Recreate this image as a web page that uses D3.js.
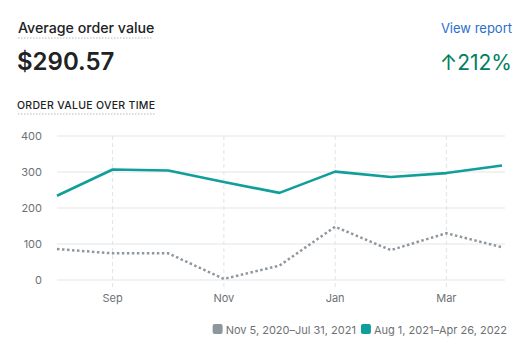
<!DOCTYPE html>
<html><head><meta charset="utf-8">
<script src="https://cdn.jsdelivr.net/npm/d3@7"></script>
<style>
body{margin:0;background:#fff;font-family:Inter,"Noto Sans",sans-serif;}
</style></head><body>
<svg id="c" width="528" height="353"></svg>
<script>
const months = ["Aug","Sep","Oct","Nov","Dec","Jan","Feb","Mar","Apr"];
const currentValues = [234,307,304,272,242,301,286,297,318];
const previousValues = [86,74,74,3,40,148,83,130,91];
const xTickLabels = ["Sep","Nov","Jan","Mar"];
const yTicks = [0,100,200,300,400];
const legendLabels = ["Nov 5, 2020–Jul 31, 2021","Aug 1, 2021–Apr 26, 2022"];

const svg = d3.select("#c");
const teal = "#109e9a", grey = "#8f979e", axisText = "#6d7175";

// header
svg.append("text").attr("x",18).attr("y",33).attr("font-size",14.2).attr("fill","#202223").attr("font-weight",500).text("Average order value");
svg.append("line").attr("x1",18).attr("x2",153).attr("y1",38).attr("y2",38).attr("stroke","#b5b8bb").attr("stroke-dasharray","1.5,1.5");
svg.append("text").attr("x",17).attr("y",70).attr("font-size",24).attr("fill","#202223").attr("font-weight",600).text("$290.57");
svg.append("text").attr("x",17).attr("y",109).attr("font-size",10.5).attr("fill","#202223").attr("font-weight",500).attr("letter-spacing",0.3).text("ORDER VALUE OVER TIME");
svg.append("line").attr("x1",18).attr("x2",155).attr("y1",114).attr("y2",114).attr("stroke","#b5b8bb").attr("stroke-dasharray","1.5,1.5");
svg.append("text").attr("x",512).attr("y",33).attr("text-anchor","end").attr("font-size",13).attr("fill","#2c6ecb").text("View report");
svg.append("text").attr("x",512).attr("y",70).attr("text-anchor","end").attr("font-size",21).attr("fill","#007f5f").text("↑212%");

const x = d3.scalePoint().domain(months).range([57,502]);
const y = d3.scaleLinear().domain([0,400]).range([280,136]);

// gridlines
svg.append("g").selectAll("line").data(yTicks).join("line")
  .attr("x1",57).attr("x2",505).attr("y1",d=>y(d)).attr("y2",d=>y(d))
  .attr("stroke","#e4e5e7").attr("stroke-width",1);
svg.append("g").selectAll("line").data(xTickLabels).join("line")
  .attr("x1",d=>x(d)).attr("x2",d=>x(d)).attr("y1",136).attr("y2",290)
  .attr("stroke","#e1e3e5").attr("stroke-dasharray","4,3");

// y axis labels
svg.append("g").selectAll("text").data(yTicks).join("text")
  .attr("x",42).attr("y",d=>y(d)+4).attr("text-anchor","end")
  .attr("font-size",11).attr("fill",axisText).text(d=>d);
// x axis labels
svg.append("g").selectAll("text").data(xTickLabels).join("text")
  .attr("x",d=>x(d)).attr("y",302).attr("text-anchor","middle")
  .attr("font-size",11).attr("fill",axisText).text(d=>d);

const line = d3.line().x((d,i)=>x(months[i])).y(d=>y(d));
svg.append("path").datum(previousValues).attr("d",line).attr("fill","none")
  .attr("stroke",grey).attr("stroke-width",2.5).attr("stroke-dasharray","2.5,2.5");
svg.append("path").datum(currentValues).attr("d",line).attr("fill","none")
  .attr("stroke",teal).attr("stroke-width",2.6).attr("stroke-linejoin","round");

// legend
const lg = svg.append("g");
const t2 = lg.append("text").attr("x",507).attr("y",334).attr("text-anchor","end").attr("font-size",11).attr("fill",axisText).text(legendLabels[1]);
const w2 = t2.node().getComputedTextLength();
lg.append("rect").attr("x",507-w2-13).attr("y",324).attr("width",10).attr("height",10).attr("rx",2).attr("fill",teal);
const t1 = lg.append("text").attr("x",507-w2-18).attr("y",334).attr("text-anchor","end").attr("font-size",11).attr("fill",axisText).text(legendLabels[0]);
const w1 = t1.node().getComputedTextLength();
lg.append("rect").attr("x",507-w2-18-w1-13).attr("y",324).attr("width",10).attr("height",10).attr("rx",2).attr("fill",grey);
</script></body></html>
